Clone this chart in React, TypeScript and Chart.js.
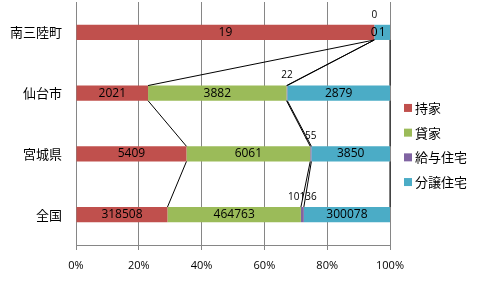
import React, { useEffect, useRef } from 'react';
import { Chart, registerables } from 'chart.js';

Chart.register(...registerables);

const categories = ['南三陸町', '仙台市', '宮城県', '全国'];
const seriesNames = ['持家', '貸家', '給与住宅', '分譲住宅'];
const owned = [19, 2021, 5409, 318508];
const rented = [0, 3882, 6061, 464763];
const company = [0, 22, 55, 10136];
const forSale = [1, 2879, 3850, 300078];
const seriesColors = ['#C0504D', '#9BBB59', '#8064A2', '#4BACC6'];
const xTicks = [0, 20, 40, 60, 80, 100];

const NUM_FAMILY = '"Open Sans", "Liberation Sans", sans-serif';
const JP_FONT = '"Noto Sans CJK JP", "Noto Sans", sans-serif';

const seriesLinesAndLabels = {
  id: 'seriesLinesAndLabels',
  afterDatasetsDraw(chart: any) {
    const ctx = chart.ctx;
    ctx.save();
    ctx.strokeStyle = '#000000';
    ctx.lineWidth = 1;
    chart.data.datasets.forEach((ds: any, di: number) => {
      const meta = chart.getDatasetMeta(di);
      for (let i = 0; i < meta.data.length - 1; i++) {
        const a = meta.data[i];
        const b = meta.data[i + 1];
        ctx.beginPath();
        ctx.moveTo(a.x, a.y + a.height / 2);
        ctx.lineTo(b.x, b.y - b.height / 2);
        ctx.stroke();
      }
    });
    ctx.fillStyle = '#000000';
    ctx.textAlign = 'center';
    ctx.textBaseline = 'middle';
    chart.data.datasets.forEach((ds: any, di: number) => {
      const meta = chart.getDatasetMeta(di);
      ctx.font = (di === 2 ? '10px ' : '12px ') + NUM_FAMILY;
      meta.data.forEach((el: any, i: number) => {
        const raw = ds.raw[i];
        const cx = (el.x + el.base) / 2;
        const cy = di === 2 ? el.y - el.height / 2 - 10 : el.y;
        ctx.fillText(String(raw), cx, cy);
      });
    });
    ctx.restore();
  },
  afterDraw(chart: any) {
    // legend drawn at the right of the plot area
    const ctx = chart.ctx;
    const area = chart.chartArea;
    const step = 24.7;
    const n = chart.data.datasets.length;
    const startY = chart.height / 2 - ((n - 1) * step) / 2;
    const boxX = area.right + 14;
    ctx.save();
    ctx.font = '13px ' + JP_FONT;
    ctx.textAlign = 'left';
    ctx.textBaseline = 'middle';
    chart.data.datasets.forEach((ds: any, di: number) => {
      const y = startY + di * step;
      ctx.fillStyle = ds.backgroundColor;
      ctx.fillRect(boxX, y - 4, 8, 8);
      ctx.fillStyle = '#000000';
      ctx.fillText(ds.label, boxX + 11, y);
    });
    ctx.restore();
  },
};

export default function App() {
  const ref = useRef<HTMLCanvasElement | null>(null);
  useEffect(() => {
    if (!ref.current) return;
    const seriesValues = [owned, rented, company, forSale];
    const totals = categories.map((_, i) => seriesValues.reduce((s, arr) => s + arr[i], 0));
    const chart = new Chart(ref.current, {
      type: 'bar',
      data: {
        labels: categories,
        datasets: seriesValues.map((vals, si) => ({
          label: seriesNames[si],
          data: vals.map((v, i) => (v / totals[i]) * 100),
          raw: vals,
          backgroundColor: seriesColors[si],
          borderWidth: 0,
          barPercentage: 0.5,
          categoryPercentage: 0.5,
        })) as any,
      },
      options: {
        indexAxis: 'y',
        animation: false,
        responsive: false,
        layout: { padding: { top: 2, left: 0, right: 92, bottom: 0 } },
        plugins: {
          tooltip: { enabled: false },
          legend: { display: false },
        },
        scales: {
          x: {
            stacked: true,
            min: 0,
            max: 100,
            afterBuildTicks: (axis: any) => {
              axis.ticks = xTicks.map((v) => ({ value: v }));
            },
            afterFit: (axis: any) => {
              axis.height = 45;
              axis.paddingRight = 0;
              axis.paddingLeft = 0;
            },
            grid: { color: '#868686', tickLength: 5, drawTicks: true },
            border: { color: '#868686' },
            ticks: {
              padding: 9,
              color: '#000000',
              font: { family: NUM_FAMILY, size: 11 },
              callback: (v: any) => v + '%',
            },
          },
          y: {
            stacked: true,
            afterFit: (axis: any) => {
              axis.width = 76;
              axis.paddingTop = 0;
              axis.paddingBottom = 0;
            },
            grid: { display: false, drawTicks: false },
            border: { display: true, color: '#868686' },
            ticks: {
              padding: 14,
              color: '#000000',
              font: { family: JP_FONT, size: 13 },
            },
          },
        },
      },
      plugins: [seriesLinesAndLabels],
    });
    return () => chart.destroy();
  }, []);
  return (
    <div style={{ position: 'fixed', left: 0, top: 0, width: 482, height: 290, background: '#ffffff' }}>
      <canvas ref={ref} width={482} height={290} />
    </div>
  );
}
